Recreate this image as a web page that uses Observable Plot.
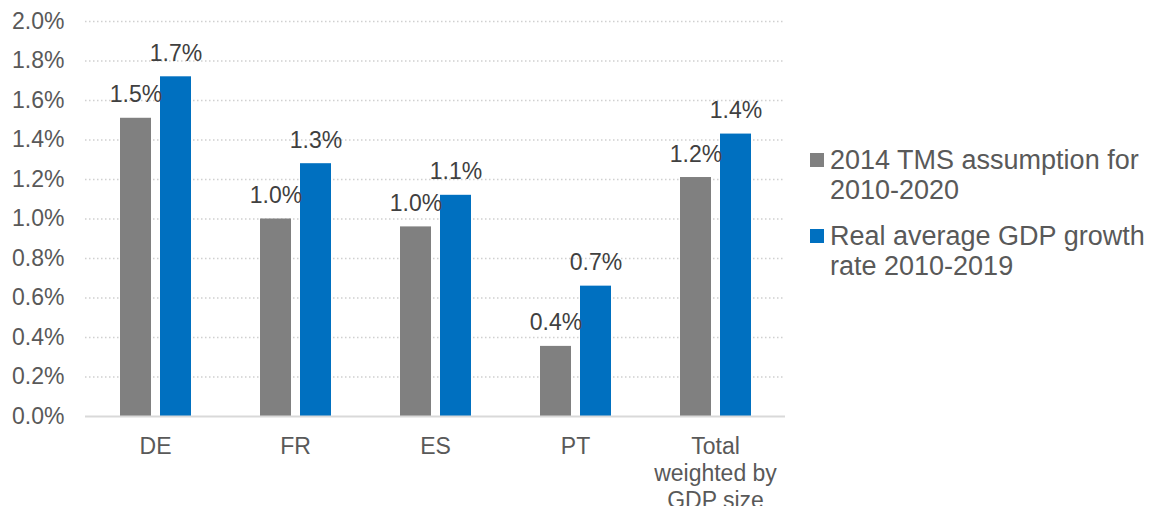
<!DOCTYPE html>
<html>
<head>
<meta charset="utf-8">
<script src="https://cdn.jsdelivr.net/npm/d3@7"></script>
<script src="https://cdn.jsdelivr.net/npm/@observablehq/plot@0.6"></script>
<style>
  body { margin: 0; background: #fff; font-family: "Liberation Sans", Arial, sans-serif; }
  #chart { position: relative; width: 1149px; height: 506px; }
  .legend-item { position: absolute; left: 810px; font-size: 27px; line-height: 30px; color: #595959; white-space: pre-line; }
  .legend-item .swatch { position: absolute; left: 0; top: 8px; width: 14px; height: 14px; }
  .legend-item .label { margin-left: 20px; }
</style>
</head>
<body>
<div id="chart"></div>
<script>
// Countries along the x axis and their axis labels
const countries = ["DE", "FR", "ES", "PT", "Total"];
const countryLabels = ["DE", "FR", "ES", "PT", "Total\nweighted by\nGDP size"];

// Two series (average annual growth, %)
const seriesNames = ["2014 TMS assumption for 2010-2020", "Real average GDP growth rate 2010-2019"];
const seriesLegend = ["2014 TMS assumption for\n2010-2020", "Real average GDP growth\nrate 2010-2019"];
const tmsAssumption = [1.51, 1.00, 0.96, 0.355, 1.21];
const realGrowth = [1.72, 1.28, 1.12, 0.66, 1.43];
const seriesColors = ["#808080", "#0070c0"];

// Y axis ticks (%)
const yTicks = [0, 0.2, 0.4, 0.6, 0.8, 1.0, 1.2, 1.4, 1.6, 1.8, 2.0];

const rows = countries.flatMap((c, i) => [
  {country: c, series: seriesNames[0], value: tmsAssumption[i]},
  {country: c, series: seriesNames[1], value: realGrowth[i]}
]);

const fmt = v => (Math.round(v * 10) / 10).toFixed(1) + "%";
const font = "'Liberation Sans', Arial, sans-serif";

const chart = Plot.plot({
  width: 1149,
  height: 506,
  marginLeft: 84,
  marginRight: 363,
  marginTop: 21,
  marginBottom: 90,
  style: {fontFamily: font, fontSize: "23px", color: "#595959", background: "white", overflow: "visible"},
  fx: {domain: countries, padding: 0, label: null, axis: null},
  x: {domain: seriesNames, paddingInner: 0.225, paddingOuter: 0.8625, axis: null},
  y: {domain: [0, 2], axis: null},
  color: {domain: seriesNames, range: seriesColors},
  marks: [
    Plot.gridY(yTicks.filter(d => d > 0), {stroke: "#d0d0d0", strokeOpacity: 1, strokeDasharray: "1.5,2.5", strokeWidth: 1.3}),
    Plot.barY(rows, {fx: "country", x: "series", y: "value", fill: "series"}),
    Plot.ruleY([0], {stroke: "#d9d9d9", strokeWidth: 2}),
    Plot.text(rows, {
      fx: "country", x: "series", y: "value",
      text: d => fmt(d.value),
      dy: -16, lineAnchor: "bottom", fill: "#404040", fontSize: 23
    }),
    Plot.axisY({ticks: yTicks, tickFormat: d => d.toFixed(1) + "%", tickSize: 0, tickPadding: 21, fontSize: 23, label: null, fill: "#595959"}),
    Plot.axisFx({
      anchor: "bottom",
      tickFormat: d => countryLabels[countries.indexOf(d)],
      tickSize: 0, tickPadding: 19, lineHeight: 1.16, fontSize: 23, label: null, fill: "#595959"
    })
  ]
});

const container = document.getElementById("chart");
container.appendChild(chart);

// Legend on the right
const legendTops = [145, 221];
seriesLegend.forEach((name, i) => {
  const item = document.createElement("div");
  item.className = "legend-item";
  item.style.top = legendTops[i] + "px";
  const sw = document.createElement("span");
  sw.className = "swatch";
  sw.style.background = seriesColors[i];
  const label = document.createElement("div");
  label.className = "label";
  label.textContent = name;
  item.appendChild(sw);
  item.appendChild(label);
  container.appendChild(item);
});
</script>
</body>
</html>
